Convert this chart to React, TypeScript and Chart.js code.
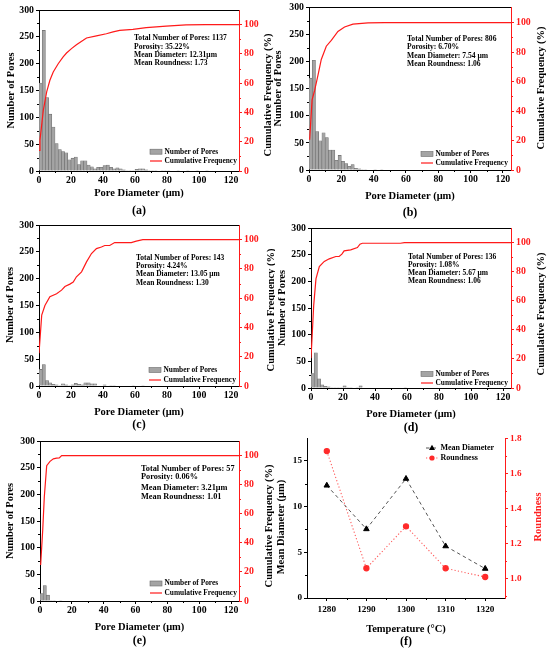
import React, { useEffect, useRef } from "react";
import { Chart, registerables } from "chart.js";

Chart.register(...registerables);

const SERIF = "'Liberation Serif', 'Times New Roman', serif";
Chart.defaults.font.family = SERIF;

const RED = "#ff1a1a";
const BAR_FILL = "#a4a4a4";
const BAR_EDGE = "#6b6b6b";

// histogram bins are 2 µm wide, starting at 0 µm
const BIN_WIDTH = 2;

const countsA = [164, 262, 137, 106, 82, 51, 40, 36, 34, 21, 24, 26, 12, 19, 19, 11, 8, 4, 7, 7, 10, 11, 7, 4, 6, 4,
  2, 1, 1, 1, 3, 4, 4, 2, 1, 1, 1, 0, 1, 1, 1, 0, 0, 1, 0, 0, 1, 0, 0, 1, 0, 0, 1];
const countsB = [170, 203, 71, 54, 69, 60, 37, 37, 18, 27, 16, 12, 7, 10, 3, 2, 1, 1, 0, 0, 1, 0, 1];
const countsC = [31, 40, 10, 6, 3, 2, 1, 4, 2, 1, 2, 5, 3, 2, 6, 6, 4, 4, 0, 0, 2, 0, 1, 1, 0, 0, 0, 0, 0, 1, 0, 0, 1];
const countsD = [27, 66, 17, 6, 3, 2, 1, 1, 1, 1, 4, 1, 1, 0, 1, 4, 0, 0, 0, 0, 0, 0, 0, 0, 0, 0, 0, 0, 0, 1];
const countsE = [14, 29, 11, 1, 1, 0, 1];

// cumulative frequency curves (µm, %)
const cumXA = [0, 0.6, 2.7, 4.8, 6.8, 8.9, 12, 15.1, 17.2, 20.3, 23.4, 27.6, 29.7, 35.9, 42.1, 46.3, 50.4, 58.7, 67, 79.5, 91.9, 104, 125];
const cumYA = [14, 21, 41.5, 54, 62, 67.7, 73.3, 77.9, 80.6, 83.6, 86.3, 89.3, 90.9, 92.3, 93.8, 95, 96.1, 96.8, 97.9, 99, 99.8, 100, 100];
const cumXB = [0.4, 1.9, 3.5, 5.6, 7.6, 10.7, 13.8, 17.9, 22, 27.2, 36.5, 46.8, 125];
const cumYB = [20.5, 47.6, 54, 64.5, 75, 84, 88, 94, 97, 99, 99.8, 100, 100];
const cumXC = [0, 1.7, 3.7, 6.8, 11, 14.1, 16.2, 19.3, 21.4, 23.4, 26.6, 29.7, 32.8, 35.9, 39, 41.1, 44.2, 47.3, 57.7, 60.8, 64.9, 125];
const cumYC = [22.4, 48.5, 55, 61, 63, 65.5, 68, 69.6, 71, 74.6, 78, 84.8, 90.5, 93.9, 95, 96, 96, 98, 98, 99, 100, 100];
const cumXD = [0, 1.7, 3.1, 5.2, 8.3, 11.4, 15.5, 17.6, 19.3, 20.7, 24.8, 29, 30.6, 32.1, 55.9, 58.4, 125];
const cumYD = [20.4, 57, 75, 83.5, 87, 88.8, 90.4, 90.4, 92, 94.3, 95, 96.6, 98.9, 99.5, 99.5, 100, 100];
const cumXE = [0.4, 1.7, 2.7, 4.2, 6.3, 8.4, 10.4, 12.1, 13.6, 125];
const cumYE = [24.8, 48.7, 71.5, 93, 96, 97.7, 98.2, 98.4, 100, 100];

const temperatures = [1280, 1290, 1300, 1310, 1320];
const meanDiameter = [12.31, 7.54, 13.05, 5.67, 3.21];
const roundness = [1.73, 1.06, 1.3, 1.06, 1.01];

const diameterTicks = [0, 20, 40, 60, 80, 100, 120];
const poreTicks = [0, 50, 100, 150, 200, 250, 300];
const cumTicks = [0, 20, 40, 60, 80, 100];
const tempTicks = [1280, 1290, 1300, 1310, 1320];
const meanTicks = [0, 5, 10, 15];
const roundTicks = [1.0, 1.2, 1.4, 1.6, 1.8];

const statsA = ["Total Number of Pores: 1137", "Porosity: 35.22%", "Mean Diameter: 12.31μm", "Mean Roundness: 1.73"];
const statsB = ["Total Number of Pores: 806", "Porosity: 6.70%", "Mean Diameter: 7.54 μm", "Mean Roundness: 1.06"];
const statsC = ["Total Number of Pores: 143", "Porosity: 4.24%", "Mean Diameter: 13.05 μm", "Mean Roundness: 1.30"];
const statsD = ["Total Number of Pores: 136", "Porosity: 1.08%", "Mean Diameter: 5.67 μm", "Mean Roundness: 1.06"];
const statsE = ["Total Number of Pores: 57", "Porosity: 0.06%", "Mean Diameter: 3.21μm", "Mean Roundness: 1.01"];

// bottom: page y where the x-axis title box should be measured from
type Box = { x: number; y: number; w: number; h: number; L: number; R: number; T: number; B: number; bottom: number };
type Deco = {
  tag: string;
  tagY: number;
  xTitleY: number;
  left: [string, number, number];
  right: [string, number, number, string];
  stats: string[];
  statsX: number;
  statsY: number[];
  statsSize: number;
  legendX: number;
  legendY: number[];
  legendSize: number;
  minor: { id: string; values: number[]; color: string }[];
};

const boxA: Box = { x: 0, y: 0, w: 275, h: 222, L: 39, R: 239, T: 10, B: 171, bottom: 222 };
const boxB: Box = { x: 270, y: 0, w: 280, h: 222, L: 309, R: 511, T: 7, B: 170, bottom: 222 };
const boxC: Box = { x: 0, y: 215, w: 275, h: 222, L: 39, R: 239, T: 225, B: 386, bottom: 437 };
const boxD: Box = { x: 270, y: 215, w: 280, h: 222, L: 311, R: 511, T: 228, B: 388, bottom: 437 };
const boxE: Box = { x: 0, y: 430, w: 275, h: 223, L: 40, R: 239, T: 441, B: 601, bottom: 653 };
const boxF: Box = { x: 270, y: 430, w: 280, h: 223, L: 307, R: 505, T: 438, B: 598, bottom: 653 };

function minorsOf(majors: number[], min: number, max: number) {
  const step = majors[1] - majors[0];
  const out: number[] = [];
  for (let i = -1; i < majors.length; i++) {
    const v = majors[0] + (i + 0.5) * step;
    if (v > min + 1e-6 && v < max - 1e-6) out.push(v);
  }
  return out;
}

const fixedTicks = (values: number[]) => (s: any) => {
  s.ticks = values.map((v) => ({ value: v }));
};

function axisStyle(color: string, size: number, padding: number) {
  return {
    grid: { offset: false, drawOnChartArea: false, drawTicks: true, tickLength: 3, tickColor: color, tickWidth: 1 },
    border: { color, width: 1 },
    ticks: {
      color,
      padding,
      autoSkip: false,
      maxRotation: 0,
      font: { family: SERIF, size, weight: "bold" as const },
      callback: (v: any) => String(v),
    },
  };
}

function bottomTitle(text: string, box: Box, centerY: number) {
  const size = 10.5;
  return {
    display: true,
    text,
    color: "#000",
    font: { family: SERIF, size, weight: "bold" as const, lineHeight: 1.2 },
    padding: { top: 0, bottom: box.bottom - centerY - (size * 1.2) / 2 },
  };
}

function drawMarker(ctx: CanvasRenderingContext2D, style: string, x: number, y: number, r: number) {
  ctx.beginPath();
  if (style === "triangle") {
    ctx.moveTo(x, y - r);
    ctx.lineTo(x + r * 0.95, y + r * 0.6);
    ctx.lineTo(x - r * 0.95, y + r * 0.6);
    ctx.closePath();
  } else {
    ctx.arc(x, y, r, 0, Math.PI * 2);
  }
  ctx.fill();
}

const decoPlugin = (box: Box, d: Deco) => ({
  id: "deco",
  afterDraw(chart: any) {
    const ctx = chart.ctx as CanvasRenderingContext2D;
    const X = (v: number) => v - box.x;
    const Y = (v: number) => v - box.y;
    ctx.save();

    // minor ticks
    for (const m of d.minor) {
      const s = chart.scales[m.id];
      ctx.strokeStyle = m.color;
      ctx.lineWidth = 1;
      ctx.beginPath();
      for (const v of m.values) {
        const p = Math.round(s.getPixelForValue(v)) + 0.5;
        if (s.isHorizontal()) {
          ctx.moveTo(p, s.top);
          ctx.lineTo(p, s.top + 2);
        } else if (s.position === "left") {
          ctx.moveTo(s.right, p);
          ctx.lineTo(s.right - 2, p);
        } else {
          ctx.moveTo(s.left, p);
          ctx.lineTo(s.left + 2, p);
        }
      }
      ctx.stroke();
    }

    // vertical axis titles
    const vtitle = (text: string, x: number, y: number, color: string) => {
      ctx.save();
      ctx.translate(X(x), Y(y));
      ctx.rotate(-Math.PI / 2);
      ctx.fillStyle = color;
      ctx.font = `bold 10.5px ${SERIF}`;
      ctx.textAlign = "center";
      ctx.textBaseline = "middle";
      ctx.fillText(text, 0, 0);
      ctx.restore();
    };
    vtitle(d.left[0], d.left[1], d.left[2], "#000");
    vtitle(d.right[0], d.right[1], d.right[2], d.right[3]);

    // panel tag
    ctx.fillStyle = "#000";
    ctx.font = `bold 12px ${SERIF}`;
    ctx.textAlign = "center";
    ctx.textBaseline = "middle";
    ctx.fillText(d.tag, X((box.L + box.R) / 2), Y(d.tagY));

    // statistics
    ctx.textAlign = "left";
    ctx.font = `bold ${d.statsSize}px ${SERIF}`;
    d.stats.forEach((t, i) => ctx.fillText(t, X(d.statsX), Y(d.statsY[i])));

    // legend
    chart.data.datasets.forEach((ds: any, i: number) => {
      const y = Y(d.legendY[i]);
      const x0 = X(d.legendX);
      const len = 12;
      if (ds.type === "bar") {
        ctx.fillStyle = ds.backgroundColor;
        ctx.fillRect(x0, y - 2.5, len, 5);
        ctx.strokeStyle = ds.borderColor;
        ctx.lineWidth = 0.6;
        ctx.strokeRect(x0, y - 2.5, len, 5);
      } else {
        ctx.strokeStyle = ds.borderColor;
        ctx.lineWidth = ds.borderWidth;
        ctx.setLineDash(ds.borderDash || []);
        ctx.beginPath();
        ctx.moveTo(x0, y);
        ctx.lineTo(x0 + len, y);
        ctx.stroke();
        ctx.setLineDash([]);
        if (ds.pointRadius) {
          ctx.fillStyle = ds.pointBackgroundColor;
          drawMarker(ctx, ds.pointStyle, x0 + len / 2, y, ds.pointRadius);
        }
      }
      ctx.fillStyle = "#000";
      ctx.font = `bold ${d.legendSize}px ${SERIF}`;
      ctx.fillText(ds.label, x0 + len + 2.5, y);
    });

    ctx.restore();
  },
});

function baseOptions(box: Box) {
  return {
    responsive: false,
    maintainAspectRatio: false,
    animation: false,
    events: [],
    layout: { padding: { top: box.T - box.y, left: 0, right: 0, bottom: box.y + box.h - box.bottom } },
    plugins: { legend: { display: false }, tooltip: { enabled: false }, title: { display: false } },
  };
}

function histogram(box: Box, deco: Deco, counts: number[], cumX: number[], cumY: number[]) {
  const bars = counts.map((c, i) => ({ x: (i + 0.5) * BIN_WIDTH, y: c }));
  const cum = cumX.map((x, i) => ({ x, y: cumY[i] }));
  const black = axisStyle("#000", 9.8, 2);
  const red = axisStyle(RED, 9.8, 2);
  const blackX = axisStyle("#000", 9.8, 1);
  return {
    type: "bar",
    data: {
      datasets: [
        {
          type: "bar",
          label: "Number of Pores",
          data: bars,
          xAxisID: "x",
          yAxisID: "y",
          backgroundColor: BAR_FILL,
          borderColor: BAR_EDGE,
          borderWidth: 0.6,
          barPercentage: 1,
          categoryPercentage: 1,
          order: 2,
        },
        {
          type: "line",
          label: "Cumulative Frequency",
          data: cum,
          xAxisID: "x",
          yAxisID: "y2",
          borderColor: RED,
          borderWidth: 1.2,
          pointRadius: 0,
          tension: 0,
          order: 1,
        },
      ],
    },
    options: {
      ...baseOptions(box),
      scales: {
        x: {
          type: "linear",
          position: "bottom",
          min: 0,
          max: 125,
          offset: false,
          ...blackX,
          afterBuildTicks: fixedTicks(diameterTicks),
          afterFit: (s: any) => {
            s.height = box.bottom - box.B;
          },
          title: bottomTitle("Pore Diameter (μm)", box, deco.xTitleY),
        },
        xTop: {
          type: "linear",
          position: "top",
          min: 0,
          max: 125,
          offset: false,
          grid: { display: false, offset: false },
          ticks: { display: false },
          border: { color: "#000", width: 1 },
          afterFit: (s: any) => {
            s.height = 0;
          },
        },
        y: {
          type: "linear",
          position: "left",
          min: 0,
          max: 300,
          ...black,
          afterBuildTicks: fixedTicks(poreTicks),
          afterFit: (s: any) => {
            s.width = box.L - box.x;
          },
        },
        y2: {
          type: "linear",
          position: "right",
          min: 0,
          max: 110,
          ...red,
          afterBuildTicks: fixedTicks(cumTicks),
          afterFit: (s: any) => {
            s.width = box.x + box.w - box.R;
          },
        },
      },
    },
    plugins: [decoPlugin(box, deco)],
  };
}

function histMinors() {
  return [
    { id: "x", values: minorsOf(diameterTicks, 0, 125), color: "#000" },
    { id: "y", values: minorsOf(poreTicks, 0, 300), color: "#000" },
    { id: "y2", values: minorsOf(cumTicks, 0, 100), color: RED },
  ];
}

function trendChart(box: Box, deco: Deco) {
  const black = axisStyle("#000", 9.2, 2);
  const red = axisStyle(RED, 9.2, 2);
  return {
    type: "line",
    data: {
      datasets: [
        {
          label: "Mean Diameter",
          data: temperatures.map((t, i) => ({ x: t, y: meanDiameter[i] })),
          xAxisID: "x",
          yAxisID: "y",
          borderColor: "#555",
          borderWidth: 1,
          borderDash: [3.5, 3],
          pointStyle: "triangle",
          pointRadius: 3.2,
          pointBackgroundColor: "#000",
          pointBorderColor: "#000",
          tension: 0,
        },
        {
          label: "Roundness",
          data: temperatures.map((t, i) => ({ x: t, y: roundness[i] })),
          xAxisID: "x",
          yAxisID: "y2",
          borderColor: "#ff5a5a",
          borderWidth: 1.1,
          borderDash: [1.2, 2.2],
          pointStyle: "circle",
          pointRadius: 2.6,
          pointBackgroundColor: "#ff2a2a",
          pointBorderColor: "#ff2a2a",
          tension: 0,
        },
      ],
    },
    options: {
      ...baseOptions(box),
      scales: {
        x: {
          type: "linear",
          position: "bottom",
          min: 1275,
          max: 1325,
          offset: false,
          ...axisStyle("#000", 9.2, 3),
          afterBuildTicks: fixedTicks(tempTicks),
          afterFit: (s: any) => {
            s.height = box.bottom - box.B;
          },
          title: bottomTitle("Temperature (°C)", box, deco.xTitleY),
        },
        y: {
          type: "linear",
          position: "left",
          min: 0,
          max: 17.5,
          ...black,
          afterBuildTicks: fixedTicks(meanTicks),
          afterFit: (s: any) => {
            s.width = box.L - box.x;
          },
        },
        y2: {
          type: "linear",
          position: "right",
          min: 0.89,
          max: 1.805,
          ...red,
          ticks: { ...red.ticks, callback: (v: any) => Number(v).toFixed(1) },
          afterBuildTicks: fixedTicks(roundTicks),
          afterFit: (s: any) => {
            s.width = box.x + box.w - box.R;
          },
        },
      },
    },
    plugins: [decoPlugin(box, deco)],
  };
}

const histDeco = (
  tag: string,
  tagY: number,
  xTitleY: number,
  left: [number, number],
  right: [number, number],
  stats: string[],
  statsX: number,
  statsY: number[],
  statsSize: number,
  legendX: number,
  legendY: number[]
): Deco => ({
  tag,
  tagY,
  xTitleY,
  left: ["Number of Pores", left[0], left[1]],
  right: ["Cumulative Frequency (%)", right[0], right[1], "#000"],
  stats,
  statsX,
  statsY,
  statsSize,
  legendX,
  legendY,
  legendSize: 7.4,
  minor: histMinors(),
});

const decoA = histDeco("(a)", 211, 193, [11, 90.5], [268, 95], statsA, 134, [38.3, 46.7, 55, 63.3], 7.6, 150, [151.7, 161]);
const decoB = histDeco("(b)", 213, 196, [278, 88.5], [541, 88], statsB, 407, [39, 47.5, 56, 64], 7.6, 421, [154, 163]);
const decoC = histDeco("(c)", 425, 412, [10, 305], [271, 310], statsC, 136, [257.7, 266, 274.3, 283], 7.5, 149, [370, 380]);
const decoD = histDeco("(d)", 428, 414, [282, 308], [541, 314], statsD, 408, [257, 265, 273, 281], 7.5, 421, [374, 383]);
const decoE = histDeco("(e)", 641, 627, [10, 521], [269, 526], statsE, 141, [469, 477.3, 487.7, 496.7], 8.3, 150, [583.5, 593]);
const decoF: Deco = {
  tag: "(f)",
  tagY: 642,
  xTitleY: 629,
  left: ["Mean Diameter (μm)", 281, 527],
  right: ["Roundness", 538, 517, "#ff2020"],
  stats: [],
  statsX: 0,
  statsY: [],
  statsSize: 8,
  legendX: 426,
  legendY: [448, 458],
  legendSize: 8,
  minor: [
    { id: "x", values: minorsOf(tempTicks, 1275, 1325), color: "#000" },
    { id: "y", values: minorsOf(meanTicks, 0, 17.5), color: "#000" },
    { id: "y2", values: minorsOf(roundTicks, 0.89, 1.805), color: RED },
  ],
};

function Panel({ box, make }: { box: Box; make: () => any }) {
  const ref = useRef<HTMLCanvasElement>(null);
  useEffect(() => {
    const chart = new Chart(ref.current as HTMLCanvasElement, make());
    return () => chart.destroy();
  }, []);
  return (
    <canvas
      ref={ref}
      width={box.w}
      height={box.h}
      style={{ position: "absolute", left: box.x, top: box.y, width: box.w, height: box.h }}
    />
  );
}

export default function App() {
  useEffect(() => {
    document.body.style.margin = "0";
  }, []);
  return (
    <div style={{ position: "absolute", left: 0, top: 0, width: 550, height: 653, background: "#fff", overflow: "hidden" }}>
      <Panel box={boxA} make={() => histogram(boxA, decoA, countsA, cumXA, cumYA)} />
      <Panel box={boxB} make={() => histogram(boxB, decoB, countsB, cumXB, cumYB)} />
      <Panel box={boxC} make={() => histogram(boxC, decoC, countsC, cumXC, cumYC)} />
      <Panel box={boxD} make={() => histogram(boxD, decoD, countsD, cumXD, cumYD)} />
      <Panel box={boxE} make={() => histogram(boxE, decoE, countsE, cumXE, cumYE)} />
      <Panel box={boxF} make={() => trendChart(boxF, decoF)} />
    </div>
  );
}
